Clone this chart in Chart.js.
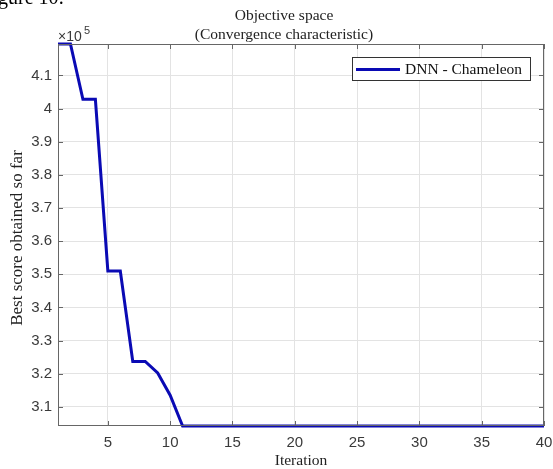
<!DOCTYPE html>
<html>
<head>
<meta charset="utf-8">
<script src="https://cdn.jsdelivr.net/npm/chart.js@4"></script>
<style>
html,body{margin:0;padding:0;background:#fff;}
#wrap{width:553px;height:469px;}
</style>
</head>
<body>
<div id="wrap"><canvas id="chart" width="553" height="469"></canvas></div>
<script>
// =========================
// DATA
// =========================

const iterations = [
    1,2,3,4,5,6,7,8,9,10,
    11,12,13,14,15,16,17,18,19,20,
    21,22,23,24,25,26,27,28,29,30,
    31,32,33,34,35,36,37,38,39,40
];

// best score (x 10^5)
const bestScore = [
    4.195,4.195,4.028,4.028,3.51,3.51,3.237,3.237,3.202,3.135,
    3.042,3.042,3.042,3.042,3.042,3.042,3.042,3.042,3.042,3.042,
    3.042,3.042,3.042,3.042,3.042,3.042,3.042,3.042,3.042,3.042,
    3.042,3.042,3.042,3.042,3.042,3.042,3.042,3.042,3.042,3.042
];

const xTicks = [5,10,15,20,25,30,35,40];
const yTicks = [3.1,3.2,3.3,3.4,3.5,3.6,3.7,3.8,3.9,4.0,4.1];

const seriesLabel = 'DNN - Chameleon';
const titleLines = ['Objective space','(Convergence characteristic)'];
const xTitle = 'Iteration';
const yTitle = 'Best score obtained so far';

// =========================
// STYLE
// =========================

const lineColor = '#0a0ab4';
const axisColor = '#666666';
const tickColor = '#3a3a3a';
const gridColor = '#e3e3e3';
const serif = '"Liberation Serif","DejaVu Serif",serif';
const sans = '"Liberation Sans",Arial,sans-serif';

// =========================
// DECORATION PLUGIN
// =========================

const matlabFrame = {
    id:'matlabFrame',
    afterDraw(chart){
        const ctx = chart.ctx;
        const a = chart.chartArea;
        const xs = chart.scales.x;
        const ys = chart.scales.y;

        ctx.save();

        // box
        ctx.strokeStyle = axisColor;
        ctx.lineWidth = 1;
        ctx.strokeRect(a.left+0.5, a.top+0.5, a.right-a.left-1, a.bottom-a.top-1);

        // inner tick marks
        ctx.beginPath();
        xTicks.forEach(v=>{
            const px = Math.round(xs.getPixelForValue(v))+0.5;
            ctx.moveTo(px,a.bottom); ctx.lineTo(px,a.bottom-5);
            ctx.moveTo(px,a.top); ctx.lineTo(px,a.top+5);
        });
        yTicks.forEach(v=>{
            const py = Math.round(ys.getPixelForValue(v))+0.5;
            ctx.moveTo(a.left,py); ctx.lineTo(a.left+5,py);
            ctx.moveTo(a.right,py); ctx.lineTo(a.right-5,py);
        });
        ctx.stroke();

        // caption fragment at top
        ctx.fillStyle = '#000';
        ctx.font = '20px ' + serif;
        ctx.textAlign = 'left';
        ctx.textBaseline = 'alphabetic';
        ctx.fillText('gure 10:', -2, 4);

        // title
        ctx.fillStyle = '#222';
        ctx.font = '15.5px ' + serif;
        ctx.textAlign = 'center';
        ctx.fillText(titleLines[0], 284, 20);
        ctx.fillText(titleLines[1], 284, 39);

        // exponent
        ctx.font = '14px ' + sans;
        ctx.textAlign = 'left';
        ctx.fillStyle = tickColor;
        ctx.fillText('\u00d710', 58, 41);
        ctx.font = '11px ' + sans;
        ctx.fillText('5', 84, 34);

        // axis titles
        ctx.font = '15.5px ' + serif;
        ctx.fillStyle = '#222';
        ctx.textAlign = 'center';
        ctx.fillText(xTitle, 301, 465);

        ctx.save();
        ctx.font = '17px ' + serif;
        ctx.translate(22, 238);
        ctx.rotate(-Math.PI/2);
        ctx.fillText(yTitle, 0, 0);
        ctx.restore();

        // legend
        const lx = 352, ly = 57, lw = 178, lh = 23;
        ctx.fillStyle = '#fff';
        ctx.fillRect(lx, ly, lw, lh);
        ctx.strokeStyle = '#333';
        ctx.lineWidth = 1;
        ctx.strokeRect(lx+0.5, ly+0.5, lw, lh);
        ctx.strokeStyle = lineColor;
        ctx.lineWidth = 3;
        ctx.beginPath();
        ctx.moveTo(356, ly+lh/2+1);
        ctx.lineTo(400, ly+lh/2+1);
        ctx.stroke();
        ctx.fillStyle = '#111';
        ctx.font = '15.5px ' + serif;
        ctx.textAlign = 'left';
        ctx.textBaseline = 'middle';
        ctx.fillText(seriesLabel, 405, ly+lh/2+1);

        ctx.restore();
    }
};

// =========================
// CHART
// =========================

new Chart(document.getElementById('chart'),{

    type:'line',

    data:{
        datasets:[{
            label:seriesLabel,
            data:iterations.map((x,i)=>({x:x,y:bestScore[i]})),
            borderColor:lineColor,
            backgroundColor:lineColor,
            borderWidth:3,
            pointRadius:0,
            tension:0,
            clip:false
        }]
    },

    options:{
        responsive:false,
        animation:false,
        layout:{
            padding:{top:44,right:9,left:0,bottom:0}
        },
        plugins:{
            legend:{display:false},
            title:{display:false},
            tooltip:{enabled:false}
        },
        scales:{
            x:{
                type:'linear',
                min:1,
                max:40,
                afterBuildTicks(scale){
                    scale.ticks = xTicks.map(v=>({value:v}));
                },
                afterFit(scale){
                    scale.height = 43;
                    scale.paddingLeft = 0;
                    scale.paddingRight = 0;
                },
                grid:{color:gridColor,drawTicks:false},
                border:{display:false},
                ticks:{
                    color:tickColor,
                    font:{family:sans,size:15},
                    padding:8,
                    maxRotation:0
                }
            },
            y:{
                type:'linear',
                min:3.042,
                max:4.195,
                afterBuildTicks(scale){
                    scale.ticks = yTicks.map(v=>({value:v}));
                },
                afterFit(scale){
                    scale.width = 58;
                    scale.paddingTop = 0;
                    scale.paddingBottom = 0;
                },
                grid:{color:gridColor,drawTicks:false},
                border:{display:false},
                ticks:{
                    color:tickColor,
                    font:{family:sans,size:15},
                    padding:6,
                    callback:v=>String(Number(v.toFixed(1)))
                }
            }
        }
    },

    plugins:[matlabFrame]

});
</script>
</body>
</html>
